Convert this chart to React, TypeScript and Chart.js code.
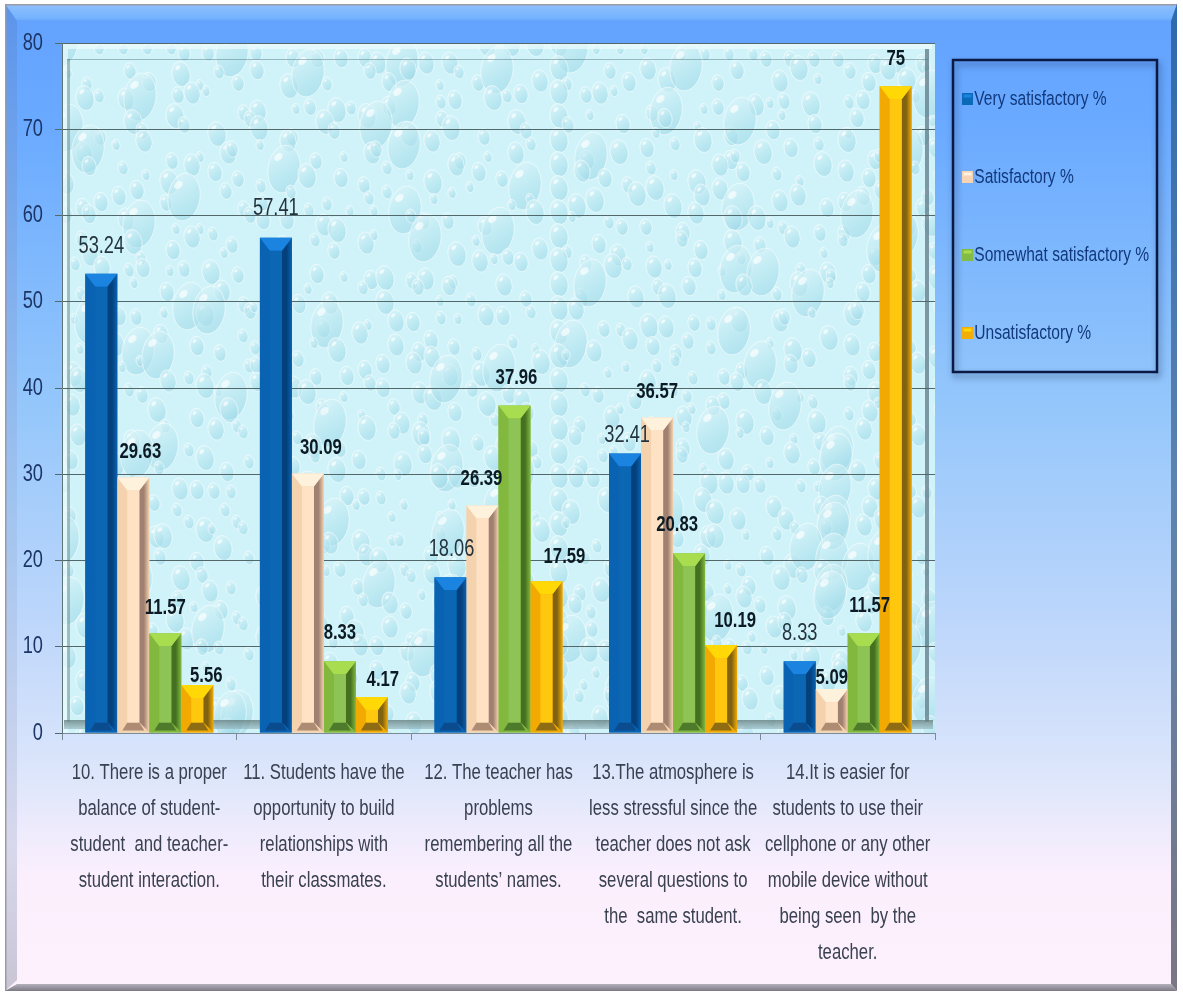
import React, { useEffect, useRef } from "react";
import { Chart, registerables } from "chart.js";

Chart.register(...registerables);

const categories = [
  ["10. There is a proper", "balance of student-", "student  and teacher-", "student interaction."],
  ["11. Students have the", "opportunity to build", "relationships with", "their classmates."],
  ["12. The teacher has", "problems", "remembering all the", "students’ names."],
  ["13.The atmosphere is", "less stressful since the", "teacher does not ask", "several questions to", "the  same student."],
  ["14.It is easier for", "students to use their", "cellphone or any other", "mobile device without", "being seen  by the", "teacher."],
];

const verySatisfactory = [53.24, 57.41, 18.06, 32.41, 8.33];
const satisfactory = [29.63, 30.09, 26.39, 36.57, 5.09];
const somewhatSatisfactory = [11.57, 8.33, 37.96, 20.83, 11.57];
const unsatisfactory = [5.56, 4.17, 17.59, 10.19, 75];

// Hand-placed nudges for the value labels, in pixels from the default spot above each bar.
const labelNudgeX = [
  [0, 7, 0, 9],
  [0, 13, 0, 11],
  [1, -1, 2, 18],
  [2, 0, -12, 14],
  [0, 0, 6, 0],
];
const labelGap = [
  [27, 26, 25, 9],
  [29, 26, 28, 17],
  [28, 26, 28, 24],
  [18, 26, 28, 24],
  [28, 11, 27, 27],
];

const FONT = '"Liberation Sans", Arial, sans-serif';
// All lettering is set tall and condensed.
const TEXT_SQUEEZE = 0.76;
const LEGEND_FONT = 20.5;
const LEGEND_PAD = 57.5;

type BarTone = { name: string; swatch: string; left: string; top: string; front: string; right: string; bottom: string; bold: boolean };

const tones: BarTone[] = [
  { name: "Very satisfactory %", swatch: "#0b6ab8", left: "#0a62b2", top: "#1a84e0", front: "#0b66b4", right: "#03407c", bottom: "#0a4c8e", bold: false },
  { name: "Satisfactory %", swatch: "#f6d4b4", left: "#f5d2ae", top: "#fff2dc", front: "#ffe2c4", right: "#a08070", bottom: "#ae8c74", bold: true },
  { name: "Somewhat satisfactory %", swatch: "#84bb44", left: "#82b83e", top: "#a9dd50", front: "#8ec456", right: "#44701f", bottom: "#4e7a2c", bold: true },
  { name: "Unsatisfactory %", swatch: "#f2ae08", left: "#f2aa02", top: "#ffd806", front: "#ffc80e", right: "#806210", bottom: "#8e6c14", bold: true },
];

const seriesValues = [verySatisfactory, satisfactory, somewhatSatisfactory, unsatisfactory];

function polygon(ctx: CanvasRenderingContext2D, pts: number[][], color: any) {
  ctx.fillStyle = color;
  ctx.beginPath();
  pts.forEach(([x, y], i) => (i ? ctx.lineTo(x, y) : ctx.moveTo(x, y)));
  ctx.closePath();
  ctx.fill();
}

// Squeezes every string drawn on this context around its anchor point.
function condenseText(ctx: CanvasRenderingContext2D) {
  const original = ctx.fillText.bind(ctx);
  ctx.fillText = (text: string, x: number, y: number) => {
    ctx.save();
    ctx.translate(x, y);
    ctx.scale(TEXT_SQUEEZE, 1);
    original(text, 0, 0);
    ctx.restore();
  };
}

// Repeating water-drop wallpaper behind the plot.
function drawDroplets(ctx: CanvasRenderingContext2D, l: number, t: number, w: number, h: number) {
  ctx.save();
  ctx.beginPath();
  ctx.rect(l, t, w, h);
  ctx.clip();
  ctx.fillStyle = "#cff3f9";
  ctx.fillRect(l, t, w, h);
  const step = 24;
  for (let row = 0; row * step < h + step; row++) {
    for (let col = 0; col * step < w + step; col++) {
      const seed = (col * 73 + row * 151 + col * row * 7) % 97;
      const big = seed % 13 === 0;
      const rx = big ? 16 : 4 + (seed % 6);
      const ry = big ? 24 : rx * 1.4;
      const x = l + col * step + ((seed * 13) % step);
      const y = t + row * step + ((seed * 29) % step);
      const g = ctx.createLinearGradient(x - rx, y - ry, x + rx, y + ry);
      g.addColorStop(0, "rgba(232,250,252,0.65)");
      g.addColorStop(0.6, "rgba(172,224,236,0.55)");
      g.addColorStop(1, "rgba(140,206,224,0.5)");
      ctx.fillStyle = g;
      ctx.beginPath();
      ctx.ellipse(x, y, rx, ry, big ? 0.15 : -0.2, 0, Math.PI * 2);
      ctx.fill();
      ctx.strokeStyle = "rgba(255,255,255,0.55)";
      ctx.lineWidth = 1;
      ctx.stroke();
      ctx.fillStyle = "rgba(255,255,255,0.65)";
      ctx.beginPath();
      ctx.ellipse(x - rx * 0.35, y - ry * 0.5, rx * 0.3, ry * 0.14, -0.7, 0, Math.PI * 2);
      ctx.fill();
    }
  }
  ctx.restore();
}

const surroundPlugin = {
  id: "surround",
  afterLayout(chart: any) {
    // The legend keeps its own rows but sits in the panel to the right of the plot.
    const lg = chart.legend;
    lg.left = 962 - LEGEND_PAD;
    lg.right = 1183;
    lg.top = 99 - LEGEND_FONT / 2 - LEGEND_PAD;
    lg.bottom = 600;
  },
  beforeDraw(chart: any) {
    const ctx: CanvasRenderingContext2D = chart.ctx;
    const W = chart.width;
    const H = chart.height;
    ctx.save();
    ctx.fillStyle = "#ffffff";
    ctx.fillRect(0, 0, W, H);

    // Panel body
    const body = ctx.createLinearGradient(0, 0, 0, H);
    body.addColorStop(0, "#62a2ff");
    body.addColorStop(0.12, "#69a9ff");
    body.addColorStop(0.4, "#93c6fb");
    body.addColorStop(0.62, "#bcd6fb");
    body.addColorStop(0.78, "#dde6fb");
    body.addColorStop(0.88, "#fbeffd");
    body.addColorStop(1, "#fdf1fe");
    ctx.fillStyle = body;
    ctx.fillRect(5, 4, W - 11, H - 8);

    // Bevelled frame strips
    const topStrip = ctx.createLinearGradient(0, 4, 0, 22);
    topStrip.addColorStop(0, "#8fc0fc");
    topStrip.addColorStop(0.8, "#74b2ff");
    topStrip.addColorStop(1, "#5c9cf4");
    polygon(ctx, [[5, 4], [W - 6, 4], [W - 12, 21], [17, 21]], topStrip);

    const leftStrip = ctx.createLinearGradient(0, 0, 0, H);
    leftStrip.addColorStop(0, "#5a94ea");
    leftStrip.addColorStop(0.5, "#9fc3ef");
    leftStrip.addColorStop(0.85, "#d8d8ec");
    leftStrip.addColorStop(1, "#c8c4d4");
    polygon(ctx, [[5, 4], [17, 21], [17, H - 15], [5, H - 4]], leftStrip);
    ctx.fillStyle = "#9c9aa6";
    ctx.fillRect(5, 4, W - 11, 1.5);
    ctx.fillRect(5, 4, 1.5, H - 8);

    const rightStrip = ctx.createLinearGradient(0, 0, 0, H);
    rightStrip.addColorStop(0, "#2f68ad");
    rightStrip.addColorStop(0.5, "#5f83ac");
    rightStrip.addColorStop(1, "#7a7684");
    polygon(ctx, [[W - 6, 4], [W - 12, 21], [W - 12, H - 11], [W - 6, H - 4]], rightStrip);

    const bottomStrip = ctx.createLinearGradient(0, H - 11, 0, H - 4);
    bottomStrip.addColorStop(0, "#b4b0bc");
    bottomStrip.addColorStop(1, "#7c7884");
    polygon(ctx, [[5, H - 4], [17, H - 11], [W - 12, H - 11], [W - 6, H - 4]], bottomStrip);

    // Textured plot wall with its inner recess
    const { left, top, right, bottom } = chart.chartArea;
    drawDroplets(ctx, left, top, right - left, bottom - top);
    ctx.strokeStyle = "rgba(240,252,253,0.65)";
    ctx.lineWidth = 6;
    ctx.beginPath();
    ctx.moveTo(left + 3, bottom);
    ctx.lineTo(left + 3, top + 3);
    ctx.lineTo(right - 3, top + 3);
    ctx.stroke();
    const recessLeft = left + 5;
    const recessRight = right - 6;
    const recessTop = top + 16;
    const recessBottom = bottom - 11;
    ctx.fillStyle = "rgba(120,150,150,0.6)";
    ctx.fillRect(recessLeft, recessTop, 3, recessBottom - recessTop);
    ctx.fillStyle = "rgba(95,120,135,0.75)";
    ctx.fillRect(recessRight - 4, recessTop - 10, 4, recessBottom - recessTop + 10);
    ctx.fillStyle = "rgba(90,125,130,0.5)";
    ctx.fillRect(recessLeft, recessTop, recessRight - recessLeft, 1);
    const floor = ctx.createLinearGradient(0, recessBottom - 2, 0, bottom - 3);
    floor.addColorStop(0, "rgba(100,125,125,0.8)");
    floor.addColorStop(1, "rgba(150,185,195,0.6)");
    ctx.fillStyle = floor;
    ctx.fillRect(left + 2, recessBottom - 2, right - left - 4, 9);

    // Legend panel
    ctx.save();
    ctx.shadowColor = "rgba(30,50,90,0.55)";
    ctx.shadowBlur = 6;
    ctx.shadowOffsetX = 2;
    ctx.shadowOffsetY = 4;
    ctx.strokeStyle = "#0a1a44";
    ctx.lineWidth = 2.5;
    ctx.strokeRect(953, 60, 204, 312);
    ctx.restore();
    ctx.restore();
  },
  afterDatasetsDraw(chart: any) {
    const ctx: CanvasRenderingContext2D = chart.ctx;
    ctx.save();
    seriesValues.forEach((_values, s) => {
      const tone = tones[s];
      chart.getDatasetMeta(s).data.forEach((bar: any) => {
        const half = bar.width / 2;
        const l = bar.x - half;
        const r = bar.x + half;
        const t = bar.y;
        const b = bar.base;
        const height = b - t;
        const capH = Math.min(13, height * 0.42);
        const footH = Math.min(10, height * 0.3);
        const il = l + 10;
        const ir = r - 10;
        polygon(ctx, [[l, t], [il, t + capH], [il, b - footH], [l, b]], tone.left);
        const side = ctx.createLinearGradient(ir, 0, r, 0);
        side.addColorStop(0, tone.right);
        side.addColorStop(0.45, tone.right);
        side.addColorStop(1, tone.left);
        polygon(ctx, [[r, t], [ir, t + capH], [ir, b - footH], [r, b]], side);
        polygon(ctx, [[l, t], [r, t], [ir, t + capH], [il, t + capH]], tone.top);
        polygon(ctx, [[l, b], [r, b], [ir, b - footH], [il, b - footH]], tone.left);
        polygon(ctx, [[l + 5, b - 2], [r - 5, b - 2], [ir, b - footH], [il, b - footH]], tone.bottom);
        ctx.fillStyle = tone.front;
        ctx.fillRect(il, t + capH, ir - il, height - capH - footH);
      });
    });
    // Values go on afterwards so that no neighbouring bar covers them.
    seriesValues.forEach((values, s) => {
      const tone = tones[s];
      chart.getDatasetMeta(s).data.forEach((bar: any, i: number) => {
        ctx.font = tone.bold ? `bold 22px ${FONT}` : `24px ${FONT}`;
        ctx.fillStyle = tone.bold ? "#0c1a24" : "#24343e";
        ctx.textAlign = "center";
        ctx.textBaseline = "middle";
        ctx.fillText(String(values[i]), bar.x + labelNudgeX[i][s], bar.y - labelGap[i][s]);
      });
    });
    ctx.restore();
  },
  afterDraw(chart: any) {
    // Small bevelled legend keys
    const ctx: CanvasRenderingContext2D = chart.ctx;
    const rowHeight = LEGEND_FONT + LEGEND_PAD;
    tones.forEach((tone, s) => {
      const cy = 99 + s * rowHeight;
      ctx.fillStyle = tone.swatch;
      ctx.fillRect(962, cy - 6, 11, 12);
      ctx.fillStyle = tone.top;
      ctx.fillRect(963.5, cy - 4.5, 8, 3);
    });
  },
};

export default function App() {
  const canvasRef = useRef<HTMLCanvasElement | null>(null);

  useEffect(() => {
    const canvas = canvasRef.current as HTMLCanvasElement;
    condenseText(canvas.getContext("2d") as CanvasRenderingContext2D);
    const chart = new Chart(canvas, {
      type: "bar",
      data: {
        labels: categories as any,
        datasets: seriesValues.map((values, s) => ({
          label: tones[s].name,
          data: values,
          backgroundColor: tones[s].swatch,
          borderWidth: 0,
          barPercentage: 1,
          categoryPercentage: 0.733,
        })),
      },
      options: {
        responsive: false,
        animation: false,
        layout: { padding: { left: 0, top: 43, right: 248, bottom: 0 } },
        plugins: {
          title: { display: false },
          tooltip: { enabled: false },
          legend: {
            position: "chartArea" as any,
            align: "start",
            labels: {
              color: "#12397c",
              font: { family: FONT, size: LEGEND_FONT },
              boxWidth: 2,
              boxHeight: 11,
              padding: LEGEND_PAD,
            },
          },
        },
        scales: {
          x: {
            afterFit(scale: any) {
              scale.height = 262;
            },
            border: { color: "#7b8c98", width: 1 },
            grid: { drawOnChartArea: false, drawTicks: true, tickLength: 7, color: "#7b8c98", offset: true },
            ticks: {
              autoSkip: false,
              maxRotation: 0,
              minRotation: 0,
              padding: 15,
              color: "#3a4150",
              font: { family: FONT, size: 22, lineHeight: 1.636 },
            },
          },
          y: {
            min: 0,
            max: 80,
            afterFit(scale: any) {
              scale.width = 62;
            },
            border: { color: "#5c7478", width: 1 },
            grid: { color: "#53686a", lineWidth: 1, tickLength: 7 },
            ticks: {
              stepSize: 10,
              padding: 12,
              color: "#1c3566",
              font: { family: FONT, size: 24 },
            },
          },
        },
      },
      plugins: [surroundPlugin as any],
    });
    return () => chart.destroy();
  }, []);

  return (
    <div style={{ position: "absolute", left: 0, top: 0, width: 1183, height: 995 }}>
      <canvas ref={canvasRef} width={1183} height={995} />
    </div>
  );
}
